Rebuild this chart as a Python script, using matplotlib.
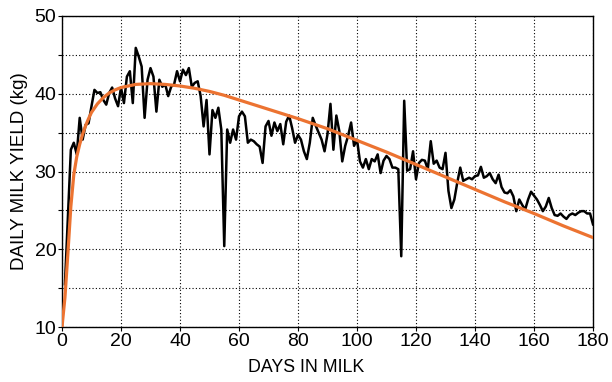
import matplotlib
matplotlib.use("Agg")
import matplotlib.pyplot as plt
from matplotlib.ticker import MultipleLocator

plt.rcParams['font.family'] = ['Liberation Sans', 'DejaVu Sans']

# Daily milk yield (kg), days 1..180
daily_yield = [
    15.5, 24.0, 32.8, 33.7, 32.2, 36.9, 34.1, 36.0, 36.2, 38.4,
    40.5, 40.1, 40.2, 39.2, 38.6, 40.1, 40.8, 39.4, 38.4, 40.8,
    38.8, 42.2, 42.9, 38.8, 45.9, 44.8, 43.5, 36.9, 41.8, 43.3,
    42.2, 37.7, 41.8, 40.9, 41.2, 39.7, 40.9, 41.2, 42.9, 41.6,
    43.1, 42.4, 43.3, 40.9, 41.4, 41.6, 39.7, 35.8, 39.2, 32.2,
    37.9, 36.9, 38.2, 35.4, 20.4, 35.4, 33.7, 35.4, 34.1, 37.1,
    37.7, 37.1, 33.7, 34.1, 33.9, 33.5, 33.2, 31.1, 35.8, 36.5,
    34.6, 36.3, 35.2, 36.1, 33.5, 36.4, 37.2, 35.6, 33.7, 34.7,
    34.1, 32.6, 31.6, 33.7, 36.9, 35.9, 35.0, 34.1, 32.6, 34.8,
    38.7, 32.8, 37.2, 35.2, 31.3, 33.3, 34.6, 36.3, 33.3, 34.1,
    31.3, 30.5, 31.6, 30.3, 31.6, 31.3, 32.2, 29.8, 31.4, 32.0,
    31.6, 30.5, 30.5, 30.3, 19.1, 39.1, 30.1, 30.3, 32.6, 29.0,
    31.1, 31.5, 31.4, 30.3, 33.9, 31.0, 31.4, 30.5, 30.3, 32.4,
    27.5, 25.3, 26.4, 28.6, 30.5, 28.8, 29.0, 29.2, 29.0, 29.4,
    29.5, 30.6, 29.2, 29.4, 29.8, 29.0, 28.5, 29.6, 28.0, 27.3,
    27.2, 27.6, 26.8, 24.9, 26.4, 25.7, 25.1, 26.4, 27.4, 26.9,
    26.4, 25.7, 24.9, 25.5, 26.6, 25.3, 24.4, 24.3, 24.6, 24.2,
    23.9, 24.4, 24.6, 24.4, 24.7, 24.9, 24.9, 24.6, 24.6, 23.2,
]
days = list(range(1, len(daily_yield) + 1))

# Fitted lactation curve (kg), read at selected days
curve_days = [0, 1, 2, 3, 4, 5, 6, 7, 8, 9, 10, 12, 14, 16, 18, 20, 25, 30,
              35, 40, 45, 50, 55, 60, 70, 80, 90, 100, 110, 120, 130, 140,
              150, 160, 170, 180]
curve_yield = [10.0, 13.8, 19.5, 25.5, 29.6, 31.9, 33.5, 34.8, 35.9, 36.8,
               37.6, 38.7, 39.5, 40.1, 40.5, 40.8, 41.2, 41.3, 41.2, 41.0,
               40.7, 40.3, 39.8, 39.2, 38.0, 36.8, 35.5, 34.0, 32.5, 30.9,
               29.3, 27.7, 26.1, 24.6, 23.0, 21.5]

x_ticks = [0, 20, 40, 60, 80, 100, 120, 140, 160, 180]
y_ticks = [10, 20, 30, 40, 50]

fig = plt.figure(figsize=(6.12, 3.82), dpi=100)
ax = fig.add_axes([62/612, 1 - 327/382, (593 - 62)/612, (327 - 16)/382])

ax.plot(days, daily_yield, color='black', lw=1.8, zorder=3)
ax.plot(curve_days, curve_yield, color='#EC7331', lw=2.3, zorder=4)

ax.set_xlim(0, 180)
ax.set_ylim(10, 50)
ax.set_xticks(x_ticks)
ax.set_yticks(y_ticks)
ax.xaxis.set_minor_locator(MultipleLocator(20))
ax.yaxis.set_minor_locator(MultipleLocator(5))
ax.grid(True, which='both', color='black', linestyle=(0, (1, 2)), linewidth=0.8)
ax.tick_params(axis='both', which='both', direction='out', length=3, width=0.8,
               labelsize=14, pad=1)
for s in ax.spines.values():
    s.set_linewidth(1.0)

ax.set_xlabel('DAYS IN MILK', fontsize=12.8, labelpad=7)
ax.xaxis.label.set_x((306 - 62) / 531)
ax.set_ylabel('DAILY MILK YIELD (kg)', fontsize=13.5, labelpad=5)

fig.savefig('out.png', dpi=100)
